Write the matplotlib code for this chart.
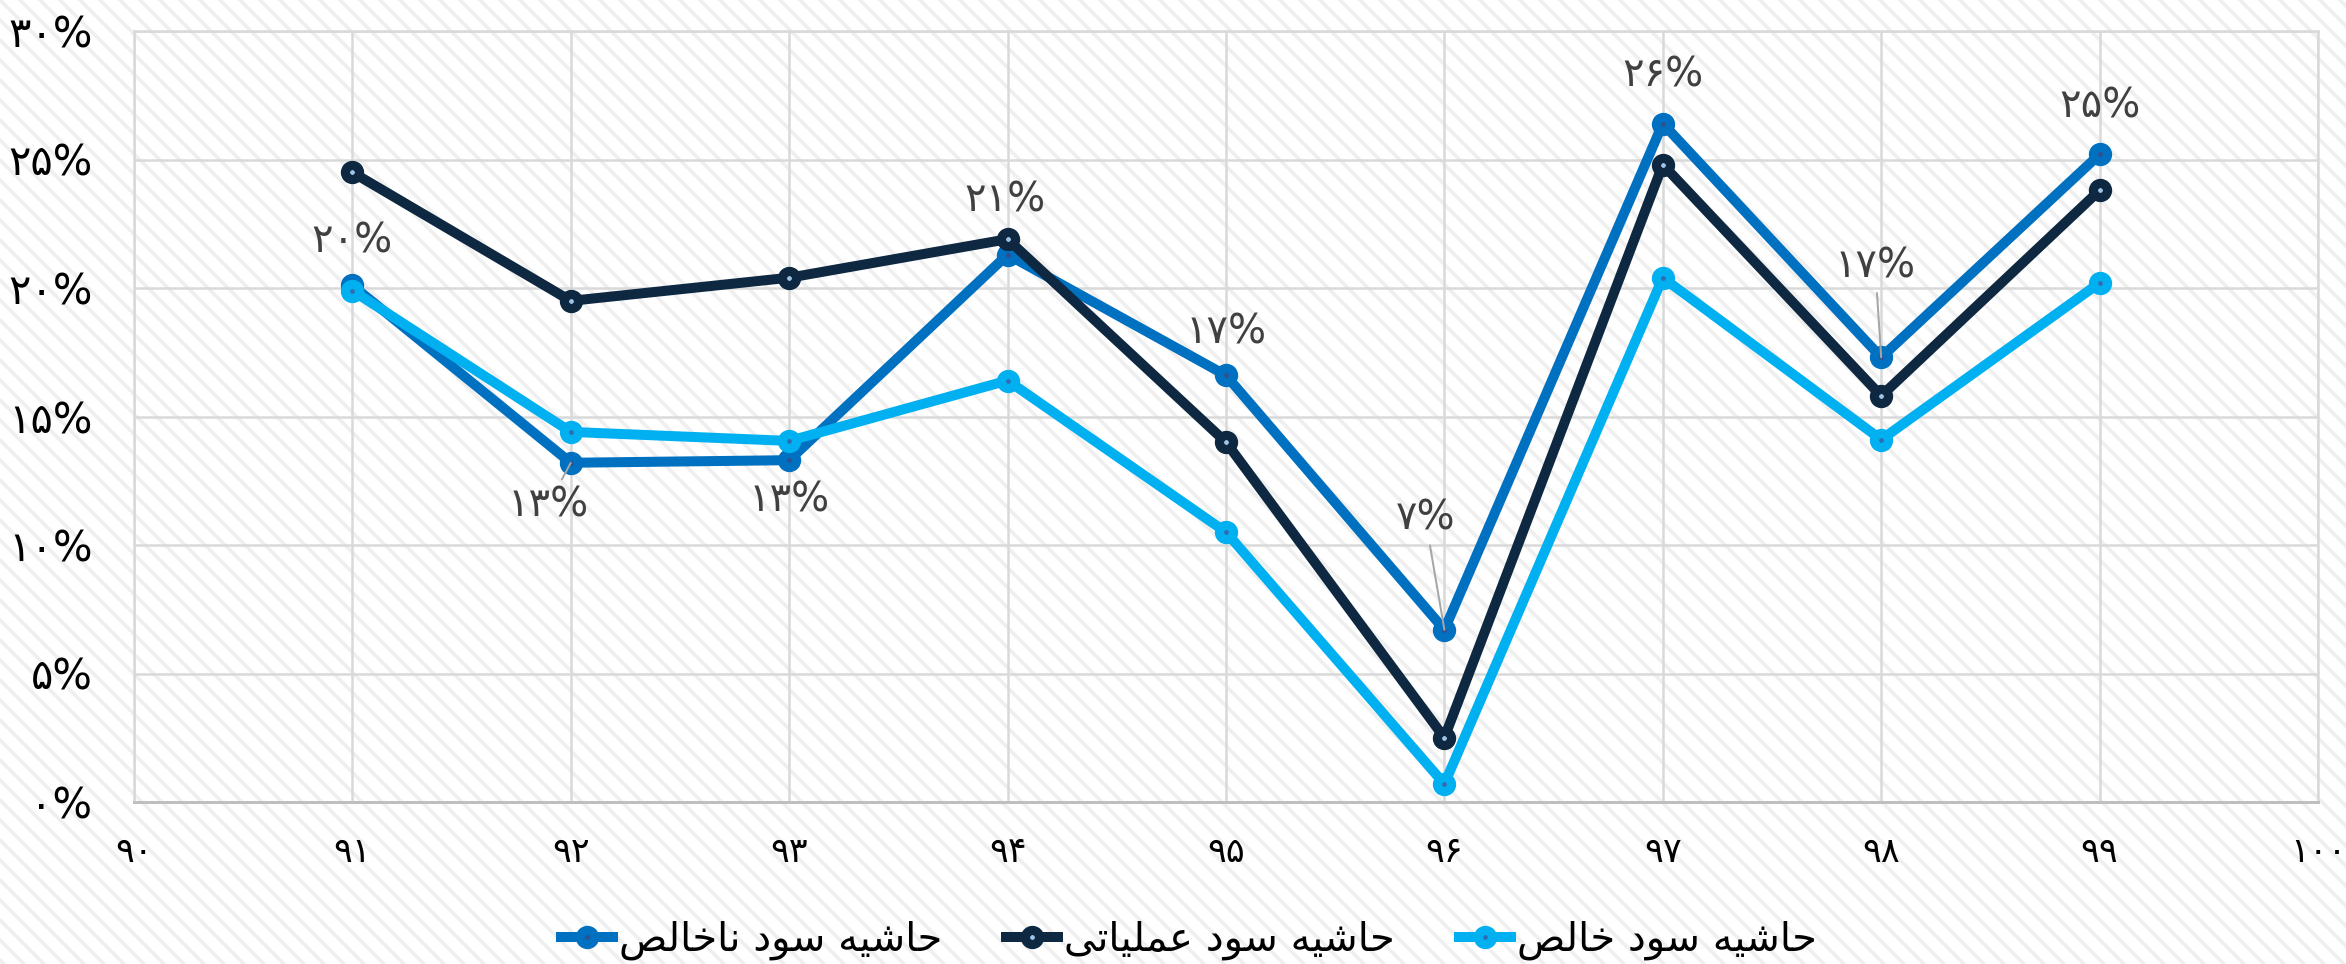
import matplotlib
matplotlib.use("Agg")
import matplotlib.pyplot as plt
from matplotlib.patches import Rectangle

# ---------------- data ----------------
years = [91, 92, 93, 94, 95, 96, 97, 98, 99]
gross_margin = [20.1, 13.2, 13.3, 21.3, 16.6, 6.7, 26.4, 17.3, 25.2]      # حاشیه سود ناخالص
operating_margin = [24.5, 19.5, 20.4, 21.9, 14.0, 2.5, 24.8, 15.8, 23.8]  # حاشیه سود عملیاتی
net_margin = [19.9, 14.4, 14.05, 16.4, 10.5, 0.7, 20.4, 14.1, 20.2]       # حاشیه سود خالص
series_names = ["حاشیه سود ناخالص", "حاشیه سود عملیاتی", "حاشیه سود خالص"]
x_ticks = [90, 91, 92, 93, 94, 95, 96, 97, 98, 99, 100]
y_ticks = [0, 5, 10, 15, 20, 25, 30]

# ---------------- helpers ----------------
PERSIAN_DIGITS = str.maketrans("0123456789", "۰۱۲۳۴۵۶۷۸۹")


def fa_num(v):
    return str(v).translate(PERSIAN_DIGITS)


# isolated, final, initial, medial presentation forms
FORMS = {
    "ا": ("\uFE8D", "\uFE8E", None, None),
    "ت": ("\uFE95", "\uFE96", "\uFE97", "\uFE98"),
    "ح": ("\uFEA1", "\uFEA2", "\uFEA3", "\uFEA4"),
    "خ": ("\uFEA5", "\uFEA6", "\uFEA7", "\uFEA8"),
    "د": ("\uFEA9", "\uFEAA", None, None),
    "س": ("\uFEB1", "\uFEB2", "\uFEB3", "\uFEB4"),
    "ش": ("\uFEB5", "\uFEB6", "\uFEB7", "\uFEB8"),
    "ص": ("\uFEB9", "\uFEBA", "\uFEBB", "\uFEBC"),
    "ع": ("\uFEC9", "\uFECA", "\uFECB", "\uFECC"),
    "ل": ("\uFEDD", "\uFEDE", "\uFEDF", "\uFEE0"),
    "م": ("\uFEE1", "\uFEE2", "\uFEE3", "\uFEE4"),
    "ن": ("\uFEE5", "\uFEE6", "\uFEE7", "\uFEE8"),
    "ه": ("\uFEE9", "\uFEEA", "\uFEEB", "\uFEEC"),
    "و": ("\uFEED", "\uFEEE", None, None),
    "ی": ("\uFEEF", "\uFEF0", "\uFEF3", "\uFEF4"),
}


def shape_fa(text):
    out = []
    n = len(text)
    for i, ch in enumerate(text):
        if ch not in FORMS:
            out.append(ch)
            continue
        prev = text[i - 1] if i > 0 else None
        nxt = text[i + 1] if i < n - 1 else None
        jp = prev in FORMS and FORMS[prev][2] is not None
        jn = FORMS[ch][2] is not None and nxt in FORMS
        iso, fin, ini, med = FORMS[ch]
        if jp and jn:
            out.append(med)
        elif jp:
            out.append(fin)
        elif jn:
            out.append(ini)
        else:
            out.append(iso)
    return "".join(out)[::-1]


# ---------------- figure ----------------
DPI = 120
plt.rcParams["font.family"] = ["DejaVu Sans"]
plt.rcParams["hatch.linewidth"] = 2.2

fig = plt.figure(figsize=(2346 / DPI, 964 / DPI), dpi=DPI, facecolor="white")
fig.add_artist(Rectangle((0, 0), 1, 1, transform=fig.transFigure, facecolor="white",
                         edgecolor="#EFEFEF", hatch="\\\\", lw=0, zorder=-10))

ax = fig.add_axes([134 / 2346, 1 - 802 / 964, (2318 - 134) / 2346, (802 - 31) / 964])
ax.set_facecolor("none")

colors = ["#0070C0", "#0E2841", "#00B0F0"]
faces = ["#2F4F8F", "#9DC3E6", "#2E6DB4"]
all_series = [gross_margin, operating_margin, net_margin]
for vals, c, fc, name in zip(all_series, colors, faces, series_names):
    ax.plot(years, vals, color=c, lw=6.0, marker="o", ms=8.5, mew=5.5,
            mec=c, mfc=fc, label=shape_fa(name), solid_joinstyle="miter", zorder=3)

# data labels for gross margin
offsets = [(0, 44), (-23, -43), (0, -40), (-3, 54), (0, 43), (-19, 111), (0, 48), (-6, 91), (0, 48)]
leaders = [False, True, False, False, False, True, False, True, False]
for x, v, (dx, dy), ld in zip(years, gross_margin, offsets, leaders):
    kw = {}
    if ld:
        kw["arrowprops"] = dict(arrowstyle="-", color="#A6A6A6", lw=1.2, shrinkA=2, shrinkB=0)
    ax.annotate(fa_num(round(v)) + "%", (x, v), xytext=(dx, dy), textcoords="offset pixels",
                ha="center", va="center", fontsize=24, color="#404040", zorder=5, **kw)

ax.set_xlim(90, 100)
ax.set_ylim(0, 30)
ax.set_xticks(x_ticks)
ax.set_xticklabels([fa_num(t) for t in x_ticks], fontsize=21, color="black")
ax.set_yticks(y_ticks)
ax.set_yticklabels([fa_num(t) + "%" for t in y_ticks], fontsize=25, color="black")
ax.tick_params(axis="both", length=0)
ax.tick_params(axis="y", pad=25)
ax.tick_params(axis="x", pad=20)
ax.grid(True, color="#D9D9D9", lw=1.5, zorder=0)
ax.set_axisbelow(True)
for s in ["left", "top", "right"]:
    ax.spines[s].set_color("#D9D9D9")
    ax.spines[s].set_linewidth(1.5)
ax.spines["bottom"].set_color("#BFBFBF")
ax.spines["bottom"].set_linewidth(1.8)

leg = fig.legend(loc="center", bbox_to_anchor=(1189 / 2346, 1 - 940 / 964), ncol=3,
                 frameon=False, fontsize=24, handlelength=1.3, handletextpad=0.15,
                 columnspacing=1.6)
for t in leg.get_texts():
    t.set_color("black")

fig.savefig("out.png", dpi=DPI, facecolor="white")
